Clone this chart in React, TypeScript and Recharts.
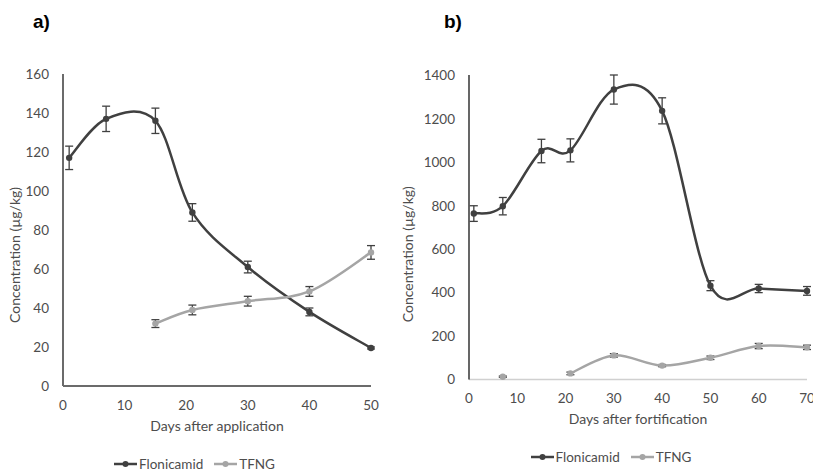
import React from 'react';
import { LineChart, Line, XAxis, YAxis, ErrorBar, Legend } from 'recharts';

// ---------- Panel a) ----------
const daysA = [1, 7, 15, 21, 30, 40, 50];
const flonA = [117, 137, 136, 89, 61, 38, 19.5];
const flonErrA = [6, 6.5, 6.5, 4.5, 3, 2, 0.5];
const tfngA = [null, null, 32, 39, 43.5, 48.5, 68.5];
const tfngErrA = [null, null, 2, 2.5, 2.5, 2.5, 3.5];
const xTicksA = [0, 10, 20, 30, 40, 50];
const yTicksA = [0, 20, 40, 60, 80, 100, 120, 140, 160];

// ---------- Panel b) ----------
const daysB = [1, 7, 15, 21, 30, 40, 50, 60, 70];
const flonB = [764, 798, 1052, 1055, 1335, 1237, 432, 419, 408];
const flonErrB = [36, 40, 54, 53, 67, 60, 23, 19, 20];
const tfngB = [null, 13, null, 28, 111, 64, 100, 154, 148];
const tfngErrB = [null, 3, null, 6, 8, 5, 8, 12, 10];
const xTicksB = [0, 10, 20, 30, 40, 50, 60, 70];
const yTicksB = [0, 200, 400, 600, 800, 1000, 1200, 1400];

const seriesNames = ['Flonicamid', 'TFNG'];
const DARK = '#404040';
const LIGHT = '#a5a5a5';
const TEXT = '#4d4d4d';
const FONT = 'Lato, "Open Sans", sans-serif';

const dataA = daysA.map((d, i) => ({ day: d, flon: flonA[i], flonErr: flonErrA[i], tfng: tfngA[i], tfngErr: tfngErrA[i] }));
const dataB = daysB.map((d, i) => ({ day: d, flon: flonB[i], flonErr: flonErrB[i], tfng: tfngB[i], tfngErr: tfngErrB[i] }));

// Excel-like smoothed line (Catmull-Rom style bezier)
const excelSmooth: any = (context: any) => {
  let pts: number[][] = [];
  return {
    areaStart() {},
    areaEnd() {},
    lineStart() {
      pts = [];
    },
    point(x: number, y: number) {
      pts.push([+x, +y]);
    },
    lineEnd() {
      const n = pts.length;
      if (!n) return;
      context.moveTo(pts[0][0], pts[0][1]);
      const t = 1 / 6;
      for (let i = 0; i < n - 1; i++) {
        const p0 = pts[Math.max(i - 1, 0)];
        const p1 = pts[i];
        const p2 = pts[i + 1];
        const p3 = pts[Math.min(i + 2, n - 1)];
        context.bezierCurveTo(
          p1[0] + (p2[0] - p0[0]) * t,
          p1[1] + (p2[1] - p0[1]) * t,
          p2[0] - (p3[0] - p1[0]) * t,
          p2[1] - (p3[1] - p1[1]) * t,
          p2[0],
          p2[1]
        );
      }
    },
  };
};

const LegendContent = (props: any) => {
  const payload = props.payload || [];
  return (
    <div style={{ display: 'flex', justifyContent: 'center', alignItems: 'center', fontFamily: FONT, fontSize: 13.5, color: TEXT }}>
      {payload.map((p: any, i: number) => (
        <span key={i} style={{ display: 'flex', alignItems: 'center', marginLeft: i ? 11 : 0 }}>
          <svg width={23} height={10} style={{ display: 'block' }}>
            <line x1={0} y1={5} x2={23} y2={5} stroke={p.color} strokeWidth={2.5} />
            <circle cx={11.5} cy={5} r={3} fill={p.color} />
          </svg>
          <span style={{ marginLeft: 2 }}>{p.value}</span>
        </span>
      ))}
    </div>
  );
};

const Panel = (props: any) => {
  const { data, xTicks, yTicks, xMax, yMax, width, yAxisWidth, top, bottom, right, xLabel, yLabelDy, yLabelOffset, yAxisStroke, yAxisWidthPx, xAxisStroke, xAxisWidthPx, legendTop, legendWidth } = props;
  return (
    <LineChart width={width} height={471} data={data} margin={{ top, right, bottom: 0, left: 0 }} style={{ fontFamily: FONT }}>
      <XAxis
        dataKey="day"
        type="number"
        domain={[0, xMax]}
        ticks={xTicks}
        interval={0}
        height={bottom}
        tickLine={false}
        tickMargin={8}
        axisLine={{ stroke: xAxisStroke, strokeWidth: xAxisWidthPx }}
        tick={{ fill: TEXT, fontSize: 13.5 }}
        label={{ value: xLabel, position: 'insideTop', offset: 35, fill: TEXT, fontSize: 14 }}
      />
      <YAxis
        type="number"
        domain={[0, yMax]}
        ticks={yTicks}
        interval={0}
        width={yAxisWidth}
        tickLine={false}
        tickMargin={8}
        axisLine={{ stroke: yAxisStroke, strokeWidth: yAxisWidthPx }}
        tick={{ fill: TEXT, fontSize: 13.5 }}
        label={{ value: 'Concentration  (µg/kg)', angle: -90, position: 'insideLeft', offset: yLabelOffset, dy: yLabelDy, fill: TEXT, fontSize: 14, style: { textAnchor: 'middle' } }}
      />
      <Legend
        layout="horizontal"
        verticalAlign="middle"
        align="center"
        content={<LegendContent />}
        wrapperStyle={{ top: legendTop, left: 0, width: legendWidth }}
      />
      <Line
        name={seriesNames[0]}
        dataKey="flon"
        type={excelSmooth}
        stroke={DARK}
        strokeWidth={2.5}
        dot={{ r: 3.2, fill: DARK, stroke: DARK, strokeWidth: 0 }}
        activeDot={false}
        isAnimationActive={false}
      >
        <ErrorBar dataKey="flonErr" direction="y" width={4} stroke={DARK} strokeWidth={1.3} isAnimationActive={false} />
      </Line>
      <Line
        name={seriesNames[1]}
        dataKey="tfng"
        type={excelSmooth}
        stroke={LIGHT}
        strokeWidth={2.5}
        dot={{ r: 3.2, fill: LIGHT, stroke: LIGHT, strokeWidth: 0 }}
        activeDot={false}
        isAnimationActive={false}
      >
        <ErrorBar dataKey="tfngErr" direction="y" width={4} stroke={DARK} strokeWidth={1.3} isAnimationActive={false} />
      </Line>
    </LineChart>
  );
};

export default function App() {
  return (
    <div style={{ position: 'absolute', left: 0, top: 0, width: 813, height: 471, background: '#fff', overflow: 'hidden' }}>
      <svg width={813} height={40} style={{ position: 'absolute', left: 0, top: 0 }}>
        <text x={33} y={28} fontFamily="Arial, 'Liberation Sans', sans-serif" fontWeight="bold" fontSize={19} fill="#000">a)</text>
        <text x={444} y={28} fontFamily="Arial, 'Liberation Sans', sans-serif" fontWeight="bold" fontSize={19} fill="#000">b)</text>
      </svg>
      <div style={{ position: 'absolute', left: 0, top: 0 }}>
        <Panel
          data={dataA}
          xTicks={xTicksA}
          yTicks={yTicksA}
          xMax={50}
          yMax={160}
          width={400}
          yAxisWidth={63}
          top={74}
          bottom={85}
          right={29}
          xLabel="Days after application"
          yLabelDy={25}
          yLabelOffset={15}
          yAxisStroke="#6b6b6b"
          yAxisWidthPx={2}
          xAxisStroke="#6b6b6b"
          xAxisWidthPx={2}
          legendTop={456}
          legendWidth={389}
        />
      </div>
      <div style={{ position: 'absolute', left: 400, top: 0 }}>
        <Panel
          data={dataB}
          xTicks={xTicksB}
          yTicks={yTicksB}
          xMax={70}
          yMax={1400}
          width={413}
          yAxisWidth={69}
          top={75}
          bottom={91.5}
          right={6}
          xLabel="Days after fortification"
          yLabelDy={27}
          yLabelOffset={8}
          yAxisStroke="#000"
          yAxisWidthPx={1.2}
          xAxisStroke="#d0d0d0"
          xAxisWidthPx={1.5}
          legendTop={449}
          legendWidth={422}
        />
      </div>
    </div>
  );
}
